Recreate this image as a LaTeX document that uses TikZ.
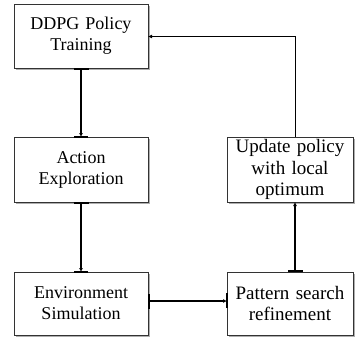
\documentclass[tikz,border=0pt]{standalone}
\usepackage{fontspec}
\setmainfont{Liberation Serif}
\usetikzlibrary{arrows.meta,shadows}
\begin{document}
\begin{tikzpicture}[x=1pt,y=-1pt,
  box/.style={draw=black!80,line width=0.8pt,fill=white,align=center,
    inner sep=2pt,outer sep=0pt,
    drop shadow={shadow xshift=2pt,shadow yshift=-2pt,fill=black!45,opacity=0.7},
    font=\fontsize{18}{21}\selectfont},
  leftbox/.style={box,minimum width=134pt,text width=130pt},
  rightbox/.style={box,minimum width=124pt,text width=122pt,
    font=\fontsize{19}{21.5}\selectfont},
  flow/.style={{Bar[width=15pt]}-{Latex[length=4pt,width=4pt]},
    line width=2pt},
  bar/.style={line width=2pt},
  back/.style={-{Latex[length=4pt,width=4pt]},line width=1pt}
]
\useasboundingbox (0,0) rectangle (356,341);
\node[leftbox,minimum height=64pt] (ddpg) at (81,36) {DDPG Policy\\Training};
\node[leftbox,minimum height=65pt] (act) at (81,169.5) {Action\\Exploration};
\node[leftbox,minimum height=63pt] (env) at (81,303.5) {Environment\\Simulation};
\node[rightbox,minimum height=65pt] (upd) at (290,169.5) {Update policy\\with local\\optimum};
\node[rightbox,minimum height=63pt] (pat) at (290,303.5) {Pattern search\\refinement};

\draw[flow] (ddpg.south) -- (act.north);
\draw[bar] ([xshift=-7pt]act.north) -- ([xshift=7pt]act.north);
\draw[flow] (act.south) -- (env.north);
\draw[bar] ([xshift=-7pt]env.north) -- ([xshift=7pt]env.north);
\draw[flow] ([yshift=2.5pt]env.east) -- ([yshift=2.5pt]pat.west);
\draw[bar] ([yshift=-4.5pt]pat.west) -- ([yshift=10.5pt]pat.west);
\draw[flow] ([xshift=5pt]pat.north) -- ([xshift=5pt]upd.south);
\draw[back] ([xshift=5pt]upd.north) |- ([yshift=-0.5pt]ddpg.east);
\end{tikzpicture}
\end{document}
